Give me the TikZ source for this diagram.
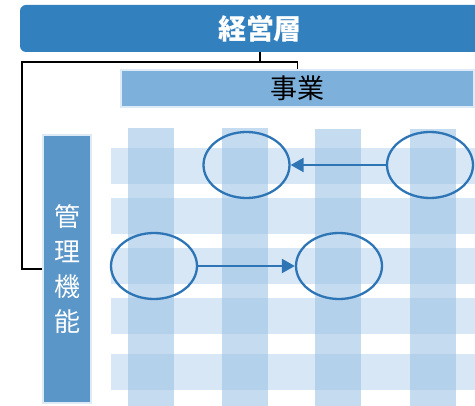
\documentclass[tikz,border=0pt]{standalone}
\usepackage{fontspec}
\setmainfont{Noto Sans CJK JP}
\usetikzlibrary{shapes.geometric}
\usetikzlibrary{arrows.meta}
\definecolor{headblue}{RGB}{51,128,191}
\definecolor{bizblue}{RGB}{126,176,220}
\definecolor{mgmtblue}{RGB}{91,150,200}
\definecolor{paleblue}{RGB}{157,195,230}
\definecolor{edgeblue}{RGB}{222,235,247}
\definecolor{ringblue}{RGB}{46,117,182}

\begin{document}
\begin{tikzpicture}
[x=1pt,y=-1pt,
headnode/.style={rectangle,rounded corners=6pt,fill=headblue,text=white,
font=\fontsize{28}{30}\selectfont\bfseries,inner sep=0pt},
boxnode/.style={rectangle,draw=edgeblue,line width=1.5pt,inner sep=0pt},
colnode/.style={rectangle,fill=paleblue,fill opacity=0.6,inner sep=0pt,
minimum width=46pt,minimum height=278pt},
rownode/.style={rectangle,fill=paleblue,fill opacity=0.4,inner sep=0pt,
minimum width=364pt,minimum height=36pt},
ringnode/.style={ellipse,draw=ringblue,line width=2.3pt,inner sep=0pt,
minimum width=86pt,minimum height=66pt},
link/.style={draw=ringblue,line width=2.3pt,-{Triangle[length=13pt,width=14pt]}},
tree/.style={draw=black,line width=1.5pt}
]
\clip (0,0) rectangle (475,406);
\useasboundingbox (0,0) rectangle (475,406);
% rows and columns
\node [rownode] (R1) at (293,166) {};
\node [rownode] (R2) at (293,216) {};
\node [rownode] (R3) at (293,266) {};
\node [rownode] (R4) at (293,316.5) {};
\node [rownode] (R5) at (293,372) {};
\node [colnode] (C1) at (151,267) {};
\node [colnode] (C2) at (245,267) {};
\node [colnode] (C3) at (338,268) {};
\node [colnode] (C4) at (433,268.5) {};
% headers
\node [headnode,minimum width=480pt,minimum height=47pt] (keiei) at (260,28.5) {経営層};
\node [boxnode,fill=bizblue,minimum width=353pt,minimum height=37pt,
font=\fontsize{27}{30}\selectfont] (jigyo) at (297.5,88.5) {事業};
\node [boxnode,fill=mgmtblue,text=white,minimum width=48pt,minimum height=268pt,
align=center,font=\fontsize{26}{35}\selectfont] (kanri) at (67,269)
{管\\理\\機\\能};
\coordinate (bend) at (22,62);
\draw [tree] (keiei.south) |- (bend) |- (kanri.west);
\draw [tree] (keiei.south) -- ++(0,10) -| (jigyo.north);
% rings
\node [ringnode] (E1) at (246.5,165) {};
\node [ringnode] (E2) at (430,165) {};
\node [ringnode] (E3) at (154,266) {};
\node [ringnode] (E4) at (339,266) {};
\draw [link] (E2.west) -- (E1.east);
\draw [link] (E3.east) -- (E4.west);
\end{tikzpicture}
\end{document}
